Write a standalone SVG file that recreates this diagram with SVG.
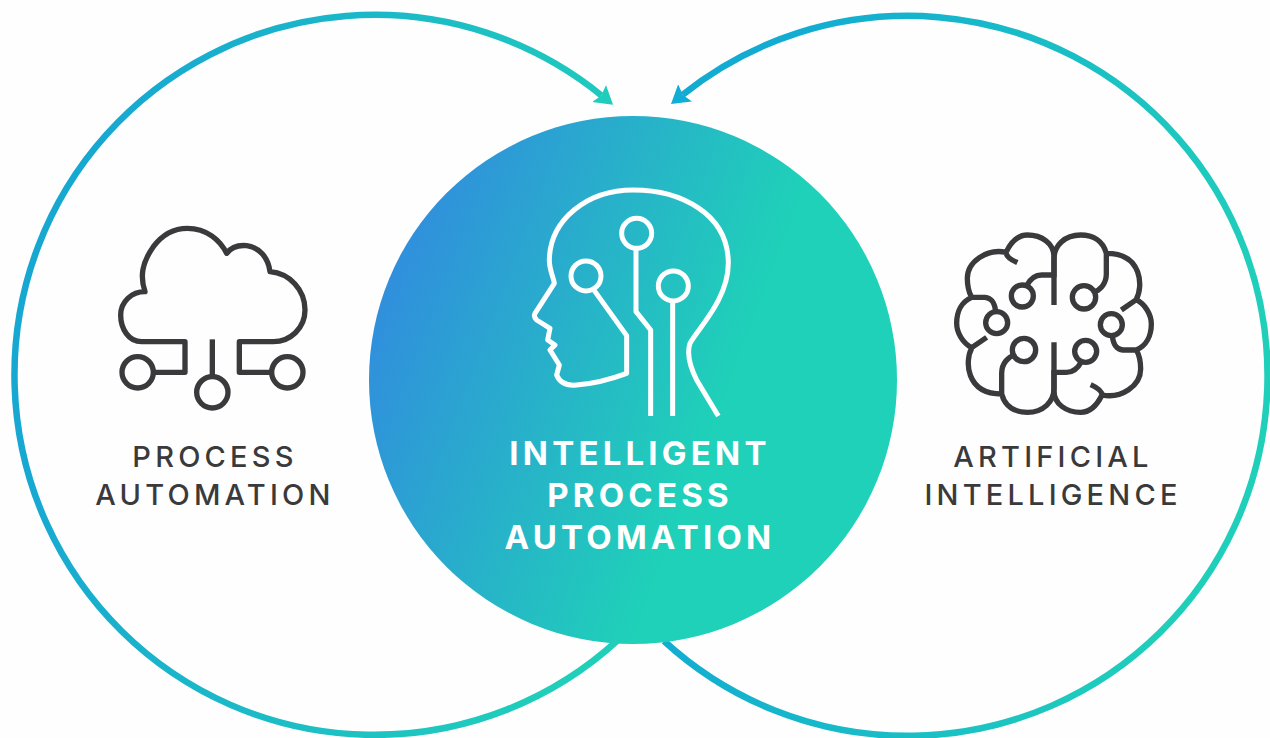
<svg xmlns="http://www.w3.org/2000/svg" xmlns:xlink="http://www.w3.org/1999/xlink" width="1270" height="738" viewBox="0 0 1270 738">
<style>
.ic{fill:none;stroke-linecap:butt;stroke-linejoin:round}
.dark{stroke:#3a3a3c}
.wht{stroke:#fff}
.lab{font-family:"Inter","Liberation Sans",sans-serif;font-size:29px;font-weight:500;letter-spacing:4.2px;fill:#3a3a3c;text-anchor:middle}
.cen{font-family:"Inter","Liberation Sans",sans-serif;font-size:33px;font-weight:700;letter-spacing:4.2px;fill:#fff;text-anchor:middle}
.ring{fill:none;stroke-width:6.5}
</style>
<defs>
<linearGradient id="gl" gradientUnits="userSpaceOnUse" x1="60" y1="300" x2="620" y2="420"><stop offset="0" stop-color="#17a8d2"/><stop offset="1" stop-color="#20cfba"/></linearGradient>
<linearGradient id="gr" gradientUnits="userSpaceOnUse" x1="720" y1="300" x2="1230" y2="420"><stop offset="0" stop-color="#12abd2"/><stop offset="1" stop-color="#20cfba"/></linearGradient>
<linearGradient id="gc" gradientUnits="userSpaceOnUse" x1="385" y1="300" x2="715" y2="425"><stop offset="0" stop-color="#3090dc"/><stop offset="1" stop-color="#1fd1b8"/></linearGradient>
<marker id="ahl" markerUnits="userSpaceOnUse" markerWidth="24" markerHeight="24" refX="3" refY="12" orient="auto"><path d="M0 1L18 12L0 23L3 12Z" fill="#20cdbc"/></marker>
<marker id="ahr" markerUnits="userSpaceOnUse" markerWidth="24" markerHeight="24" refX="3" refY="12" orient="auto"><path d="M0 1L18 12L0 23L3 12Z" fill="#10aed6"/></marker>
</defs>
<rect width="1270" height="738" fill="#fefefe"/>
<g id="connectors">
<path class="ring" stroke="url(#gl)" marker-end="url(#ahl)" d="M618 640A360 360 0 1 1 601.4 95.4"/>
<path class="ring" stroke="url(#gr)" marker-end="url(#ahr)" d="M664 641A360 360 0 1 0 682.7 94.7"/>
</g>
<g id="node-center">
<circle cx="633" cy="380" r="264" fill="url(#gc)"/>
<g class="ic wht" stroke-width="15" transform="translate(500 170) scale(.33333)">
<path d="M655 738L590 630C570 590 560 550 570 520C590 480 685 390 685 280C685 130 540 60 400 60C260 60 150 150 148 270C148 300 160 320 163 340L105 430Q100 440 110 450L150 475L143 510L165 525L150 540L178 585L170 615C180 640 200 648 230 645C290 640 340 625 380 610L380 497L283 362"/>
<circle cx="258" cy="318" r="45"/><circle cx="410" cy="190" r="45"/><circle cx="520" cy="348" r="45"/>
<path d="M408 235L408 425L452 480L452 738M518 393L518 738"/>
</g>
<text class="cen" x="640" y="465">INTELLIGENT</text>
<text class="cen" x="640" y="507">PROCESS</text>
<text class="cen" x="640" y="549">AUTOMATION</text>
</g>
<g id="node-process">
<g class="ic dark" stroke-width="16" transform="translate(100 210) scale(.33333)">
<path d="M160 487L255 487L255 395L125 395C85 395 62 355 62 315C62 275 95 245 135 245C120 200 125 160 160 110C190 70 225 55 262 55C320 55 360 90 380 130C395 110 420 105 440 107C480 112 505 145 510 185C570 190 615 240 615 300C615 355 570 395 520 395L418 395L418 487L515 487"/>
<path d="M337 388L337 497"/>
<circle cx="113" cy="487" r="47"/><circle cx="337" cy="547" r="47"/><circle cx="562" cy="487" r="47"/>
</g>
<text class="lab" x="215" y="467">PROCESS</text>
<text class="lab" x="215" y="505">AUTOMATION</text>
</g>
<g id="node-ai">
<g class="ic dark" stroke-width="16" transform="translate(930 220) scale(.33333)" stroke-linecap="round">
<g id="half">
<path d="M262 128C240 118 228 108 228 97C245 62 265 45 292 45C335 45 372 70 372 110L372 255M228 97C170 85 112 125 112 175C112 200 118 220 125 232L165 232C190 235 195 255 197 275M125 232C95 245 80 275 80 310C80 340 100 370 125 383L170 352M125 385C105 420 105 522 215 522C225 560 255 577 292 577C340 577 372 545 372 505L372 450M215 522L215 460C215 430 235 410 255 405M290 197C300 178 315 165 335 165L372 165"/>
<circle cx="277" cy="228" r="33"/><circle cx="200" cy="308" r="33"/><circle cx="282" cy="390" r="35"/>
</g>
<use href="#half" transform="rotate(180 372 311)"/>
</g>
<text class="lab" x="1053" y="467">ARTIFICIAL</text>
<text class="lab" x="1053" y="505">INTELLIGENCE</text>
</g>
</svg>
